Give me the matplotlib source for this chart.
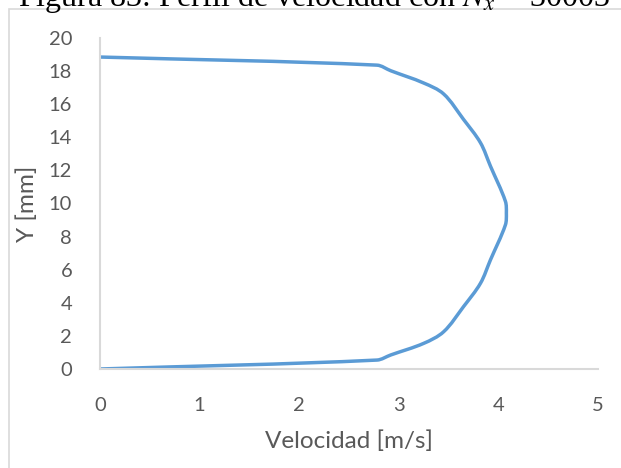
import math
import matplotlib
matplotlib.use("Agg")
import matplotlib.pyplot as plt
from matplotlib.patches import Rectangle, PathPatch
from matplotlib.path import Path

# Velocity profile across the channel height
velocidad = [0, 2.78, 2.92, 3.25, 3.45, 3.65, 3.82, 3.92, 4.07, 4.08,
             4.07, 3.92, 3.82, 3.65, 3.45, 3.25, 2.92, 2.78, 0]
altura = [0, 0.54, 0.85, 1.55, 2.25, 3.77, 5.18, 6.59, 8.70, 9.42,
          10.14, 12.26, 13.67, 15.08, 16.62, 17.28, 18.02, 18.36, 18.85]

x_ticks = [0, 1, 2, 3, 4, 5]
y_ticks = [0, 2, 4, 6, 8, 10, 12, 14, 16, 18, 20]

TEXT = "#595959"
GRID = "#d9d9d9"
BLUE = "#5b9bd5"

plt.rcParams["font.family"] = ["Lato", "DejaVu Sans"]
plt.rcParams["mathtext.fontset"] = "stix"

AX_W, AX_H = 498, 331          # plot area size in pixels
X_SPAN, Y_SPAN = 5.0, 20.0


def smooth_path(xs, ys):
    """Smoothed line through the points: cubic Bezier segments whose
    tangents follow neighbouring points, with handles sized by each
    segment's on-screen length so long segments do not overshoot."""
    sx, sy = AX_W / X_SPAN, AX_H / Y_SPAN
    pts = [(x * sx, y * sy) for x, y in zip(xs, ys)]
    n = len(pts)

    def unit(a, b):
        dx, dy = b[0] - a[0], b[1] - a[1]
        d = math.hypot(dx, dy) or 1.0
        return dx / d, dy / d

    verts = [pts[0]]
    codes = [Path.MOVETO]
    for i in range(n - 1):
        p0 = pts[i - 1] if i > 0 else pts[i]
        p1 = pts[i]
        p2 = pts[i + 1]
        p3 = pts[i + 2] if i + 2 < n else pts[i + 1]
        seg = math.hypot(p2[0] - p1[0], p2[1] - p1[1])
        t1 = unit(p0, p2)
        t2 = unit(p1, p3)
        k = seg / 3.0
        c1 = (p1[0] + t1[0] * k, p1[1] + t1[1] * k)
        c2 = (p2[0] - t2[0] * k, p2[1] - t2[1] * k)
        verts += [c1, c2, p2]
        codes += [Path.CURVE4] * 3
    verts = [(x / sx, y / sy) for x, y in verts]
    return Path(verts, codes)


fig = plt.figure(figsize=(6.21, 4.68), dpi=100)

# caption above the chart frame (only its lower part fits on the page)
fig.text(610 / 621, 1 - 15 / 468, r"Figura 83: Perfil de velocidad con $N_x$ = 30003",
         family="Liberation Serif", fontsize=23, color="black",
         ha="right", va="bottom")

# chart frame
fig.patches.append(Rectangle((9 / 621, -0.1), 2.0, 1 - 9 / 468 + 0.1,
                             transform=fig.transFigure, fill=False,
                             edgecolor=GRID, linewidth=1.2))

ax = fig.add_axes([100 / 621, 1 - 369 / 468, AX_W / 621, AX_H / 468])
ax.add_patch(PathPatch(smooth_path(velocidad, altura), facecolor="none",
                       edgecolor=BLUE, linewidth=2.5, joinstyle="round",
                       capstyle="round"))

ax.set_xlim(0, X_SPAN)
ax.set_ylim(0, Y_SPAN)
ax.set_xticks(x_ticks)
ax.set_yticks(y_ticks)
ax.tick_params(length=0, labelsize=14.5, colors=TEXT)
ax.tick_params(axis="x", pad=20)
ax.tick_params(axis="y", pad=20)

for side in ("top", "right"):
    ax.spines[side].set_visible(False)
for side in ("left", "bottom"):
    ax.spines[side].set_color(GRID)
    ax.spines[side].set_linewidth(1.5)

ax.set_xlabel("Velocidad [m/s]", fontsize=17.5, color=TEXT, labelpad=12)
ax.set_ylabel("Y [mm]", fontsize=17.5, color=TEXT, labelpad=8)

fig.savefig("out.png", dpi=100)
